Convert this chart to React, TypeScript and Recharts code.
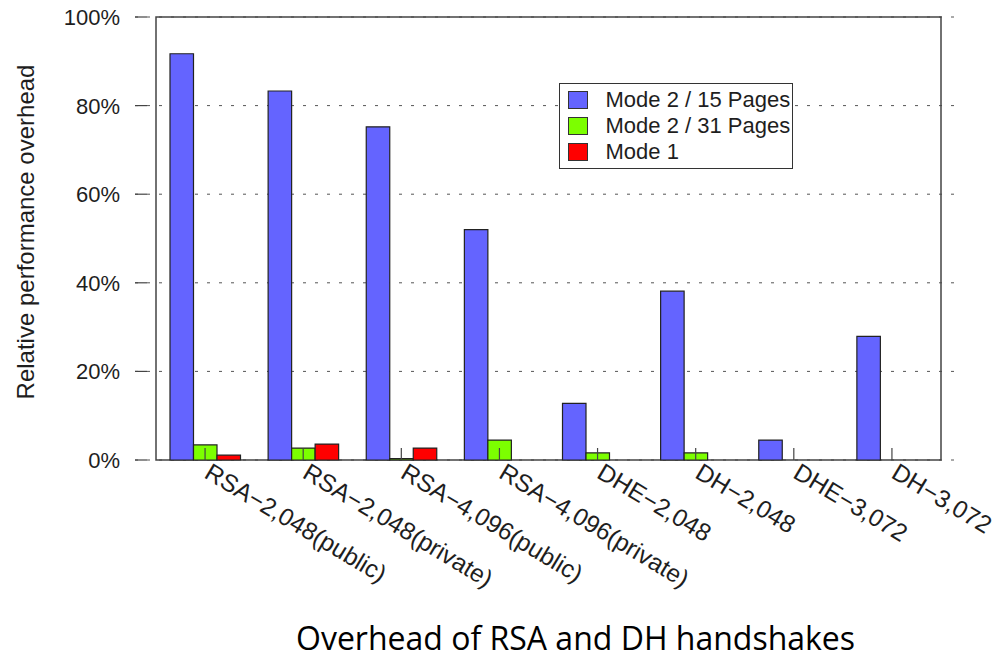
import React from 'react';
import { BarChart, Bar, XAxis, YAxis, CartesianGrid, Legend, ReferenceArea } from 'recharts';

// handshake types on the x axis
const categories = [
  'RSA−2,048(public)',
  'RSA−2,048(private)',
  'RSA−4,096(public)',
  'RSA−4,096(private)',
  'DHE−2,048',
  'DH−2,048',
  'DHE−3,072',
  'DH−3,072',
];
// relative overhead in %
const mode2Pages15 = [91.7, 83.3, 75.2, 52.0, 12.8, 38.1, 4.5, 27.9];
const mode2Pages31 = [3.4, 2.7, 0.3, 4.5, 1.6, 1.6, 0, 0];
const mode1 = [1.1, 3.6, 2.7, 0, 0, 0, 0, 0];
const yTicks = [0, 20, 40, 60, 80, 100];
const seriesNames = ['Mode 2 / 15 Pages', 'Mode 2 / 31 Pages', 'Mode 1'];

const data = categories.map((name, i) => ({
  name,
  p15: mode2Pages15[i],
  p31: mode2Pages31[i],
  m1: mode1[i],
}));

const FONT = '"Liberation Sans", Arial, Helvetica, sans-serif';
const INK = '#1e1e1e';
const AXIS = '#444';

const XTick = (props: any) => {
  const { x, y, payload } = props;
  const ax = x - 2;
  const ay = y + 17;
  return (
    <g>
      <line x1={x} y1={y} x2={x} y2={y - 12} stroke={AXIS} strokeWidth={1.2} />
      <text
        x={ax}
        y={ay}
        transform={`rotate(31, ${ax}, ${ay})`}
        fontSize={24.5}
        fontFamily={FONT}
        fill={INK}
      >
        {payload.value}
      </text>
    </g>
  );
};

const YTick = (props: any) => {
  const { x, y, payload } = props;
  return (
    <g>
      <line x1={x} y1={y} x2={x + 12} y2={y} stroke={AXIS} strokeWidth={1.2} />
      <text x={x - 15} y={y + 8} textAnchor="end" fontSize={22} fontFamily={FONT} fill={INK}>
        {`${payload.value}%`}
      </text>
    </g>
  );
};

const renderLegend = (props: any) => {
  const payload = [...(props.payload ?? [])].sort(
    (a: any, b: any) => seriesNames.indexOf(a.value) - seriesNames.indexOf(b.value)
  );
  return (
    <div
      style={{
        boxSizing: 'border-box',
        width: 234,
        height: 86,
        border: '1.5px solid #333',
        background: '#fff',
        padding: '3px 0 3px 7.5px',
        fontFamily: FONT,
        fontSize: 22,
        color: INK,
      }}
    >
      {payload.map((entry: any) => (
        <div key={entry.value} style={{ display: 'flex', alignItems: 'center', height: 26 }}>
          <span
            style={{
              boxSizing: 'border-box',
              display: 'inline-block',
              width: 20,
              height: 18,
              background: entry.color,
              border: '1px solid #333',
            }}
          />
          <span style={{ marginLeft: 18, lineHeight: '26px', whiteSpace: 'nowrap' }}>{entry.value}</span>
        </div>
      ))}
    </div>
  );
};

export default function App() {
  return (
    <div style={{ position: 'absolute', left: 0, top: 0, width: 996, height: 661, background: '#fff' }}>
      <BarChart
        width={996}
        height={661}
        data={data}
        margin={{ top: 17, right: 33, left: 0, bottom: 171 }}
        barGap={0}
        barSize={23.5}
      >
        <CartesianGrid
          vertical={false}
          stroke="#555"
          strokeDasharray="3 9"
          strokeWidth={1}
        />
        <XAxis
          dataKey="name"
          height={30}
          padding={{ left: 21, right: 22 }}
          interval={0}
          tickSize={0}
          tickMargin={0}
          tickLine={false}
          axisLine={false}
          tick={<XTick />}
        />
        <YAxis
          width={135}
          domain={[0, 100]}
          ticks={yTicks}
          tickSize={0}
          tickMargin={0}
          tickLine={false}
          axisLine={false}
          tick={<YTick />}
          label={{
            content: () => (
              <text
                x={25}
                y={232}
                transform="rotate(-90, 25, 232)"
                textAnchor="middle"
                dominantBaseline="central"
                fontSize={24}
                fontFamily={FONT}
                fill={INK}
              >
                Relative performance overhead
              </text>
            ),
          }}
        />
        <ReferenceArea y1={0} y2={100} fill="none" stroke={AXIS} strokeWidth={1.5} ifOverflow="visible" />
        <Legend
          layout="vertical"
          align="center"
          verticalAlign="middle"
          wrapperStyle={{ left: 559, top: 83, width: 234 }}
          content={renderLegend}
        />
        <Bar dataKey="p15" name={seriesNames[0]} fill="#6464ff" stroke="#222" strokeWidth={1.2} isAnimationActive={false} />
        <Bar dataKey="p31" name={seriesNames[1]} fill="#7cff00" stroke="#222" strokeWidth={1.2} isAnimationActive={false} />
        <Bar dataKey="m1" name={seriesNames[2]} fill="#ff0000" stroke="#222" strokeWidth={1.2} isAnimationActive={false} />
      </BarChart>
      <div
        style={{
          position: 'absolute',
          left: 296,
          top: 622,
          fontFamily: '"Open Sans", sans-serif',
          fontSize: 32,
          lineHeight: '32px',
          color: '#000',
          whiteSpace: 'nowrap',
        }}
      >
        Overhead of RSA and DH handshakes
      </div>
    </div>
  );
}
